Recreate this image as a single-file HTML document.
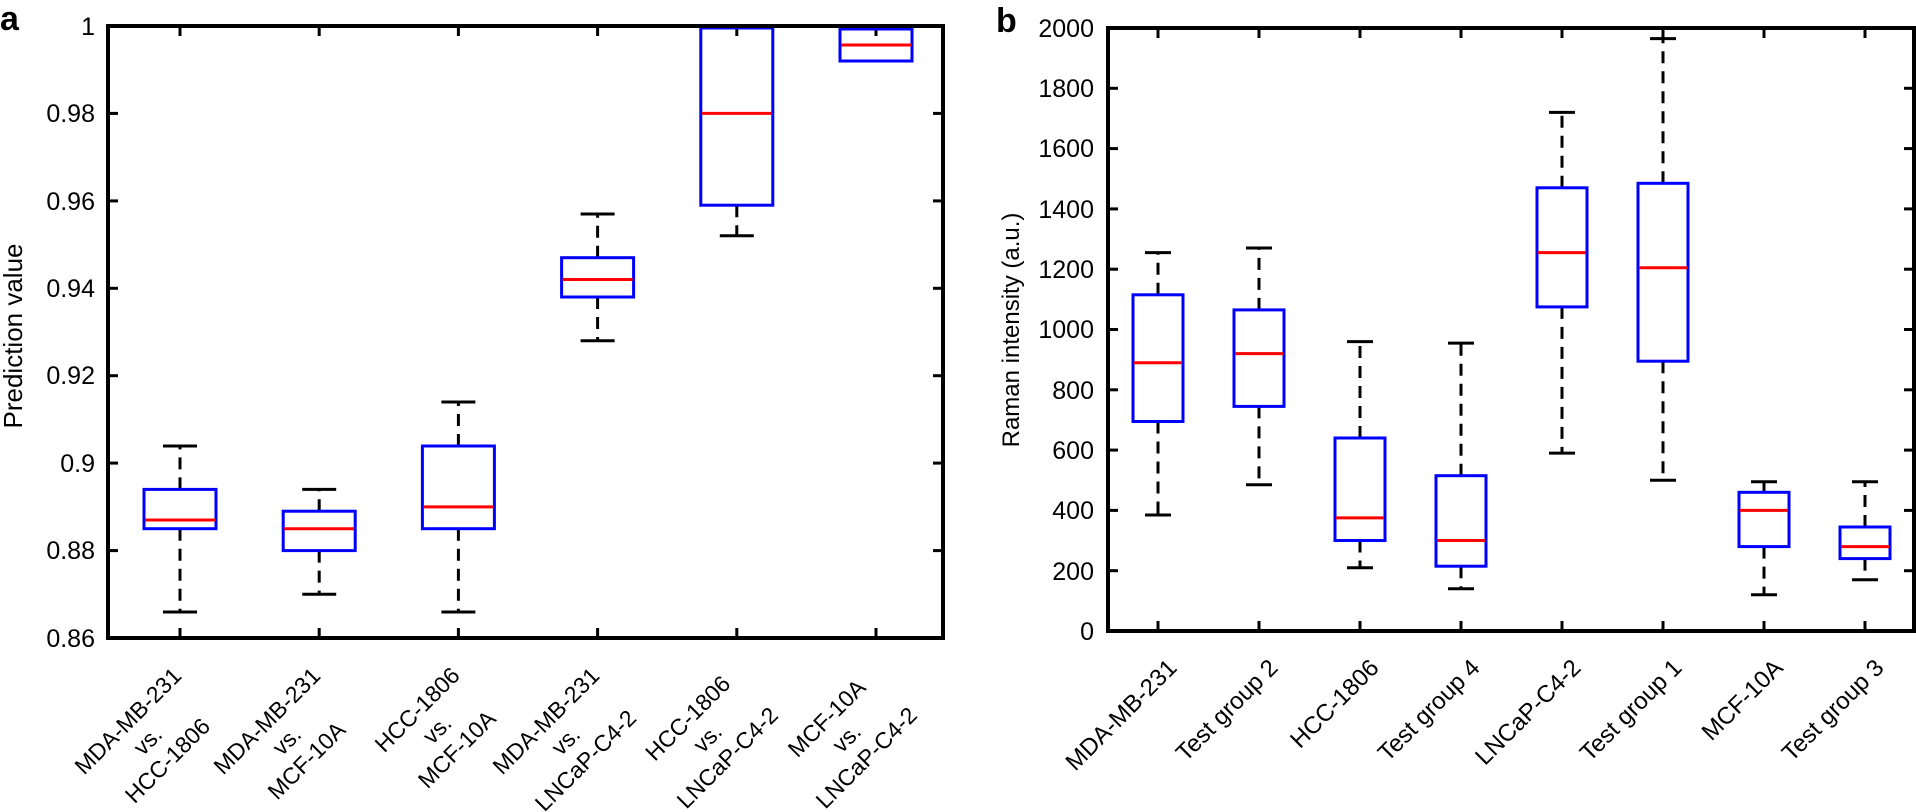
<!DOCTYPE html>
<html><head><meta charset="utf-8"><style>
html,body{margin:0;padding:0;background:#fff;}
svg{display:block;font-family:"Liberation Sans",Arial,sans-serif;}
</style></head><body>
<svg width="1916" height="812" viewBox="0 0 1916 812" xmlns="http://www.w3.org/2000/svg">
<rect width="1916" height="812" fill="#fff"/>
<text x="0" y="30" font-size="34" font-weight="bold">a</text>
<text x="996" y="32" font-size="34" font-weight="bold">b</text>

<!-- Panel a -->
<g stroke="#000" stroke-width="3">
<line x1="180" y1="638" x2="180" y2="628"/><line x1="319.2" y1="638" x2="319.2" y2="628"/><line x1="458.4" y1="638" x2="458.4" y2="628"/><line x1="597.6" y1="638" x2="597.6" y2="628"/><line x1="736.8" y1="638" x2="736.8" y2="628"/><line x1="876" y1="638" x2="876" y2="628"/>
<line x1="180" y1="26" x2="180" y2="36"/><line x1="319.2" y1="26" x2="319.2" y2="36"/><line x1="458.4" y1="26" x2="458.4" y2="36"/><line x1="597.6" y1="26" x2="597.6" y2="36"/><line x1="736.8" y1="26" x2="736.8" y2="36"/><line x1="876" y1="26" x2="876" y2="36"/>
<line x1="108" y1="113.4" x2="118" y2="113.4"/><line x1="108" y1="200.9" x2="118" y2="200.9"/><line x1="108" y1="288.3" x2="118" y2="288.3"/><line x1="108" y1="375.7" x2="118" y2="375.7"/><line x1="108" y1="463.1" x2="118" y2="463.1"/><line x1="108" y1="550.6" x2="118" y2="550.6"/>
<line x1="943" y1="113.4" x2="933" y2="113.4"/><line x1="943" y1="200.9" x2="933" y2="200.9"/><line x1="943" y1="288.3" x2="933" y2="288.3"/><line x1="943" y1="375.7" x2="933" y2="375.7"/><line x1="943" y1="463.1" x2="933" y2="463.1"/><line x1="943" y1="550.6" x2="933" y2="550.6"/>
</g>
<g font-size="25" text-anchor="end">
<text x="95" y="35">1</text><text x="95" y="122">0.98</text><text x="95" y="210">0.96</text><text x="95" y="297">0.94</text><text x="95" y="384">0.92</text><text x="95" y="472">0.9</text><text x="95" y="559">0.88</text><text x="95" y="647">0.86</text>
</g>
<text transform="translate(22,336) rotate(-90)" font-size="26" text-anchor="middle">Prediction value</text>

<g stroke="#000" stroke-width="3" fill="none">
<g stroke-dasharray="12,8">
<line x1="180" y1="528.7" x2="180" y2="612"/><line x1="180" y1="489.4" x2="180" y2="446"/>
<line x1="319.2" y1="550.6" x2="319.2" y2="594.3"/><line x1="319.2" y1="511.2" x2="319.2" y2="489.4"/>
<line x1="458.4" y1="528.7" x2="458.4" y2="612"/><line x1="458.4" y1="446" x2="458.4" y2="402"/>
<line x1="597.6" y1="297" x2="597.6" y2="340.7"/><line x1="597.6" y1="257.7" x2="597.6" y2="214"/>
<line x1="736.8" y1="205.2" x2="736.8" y2="235.8"/>
</g>
<line x1="163" y1="612" x2="197" y2="612"/><line x1="163" y1="446" x2="197" y2="446"/>
<line x1="302.2" y1="594.3" x2="336.2" y2="594.3"/><line x1="302.2" y1="489.4" x2="336.2" y2="489.4"/>
<line x1="441.4" y1="612" x2="475.4" y2="612"/><line x1="441.4" y1="402" x2="475.4" y2="402"/>
<line x1="580.6" y1="340.7" x2="614.6" y2="340.7"/><line x1="580.6" y1="214" x2="614.6" y2="214"/>
<line x1="719.8" y1="235.8" x2="753.8" y2="235.8"/><line x1="719.8" y1="27" x2="753.8" y2="27"/>
<line x1="859" y1="61" x2="893" y2="61"/><line x1="859" y1="28" x2="893" y2="28"/>
</g>
<g stroke="#0000ff" stroke-width="3" fill="none">
<rect x="144" y="489.4" width="72" height="39.3"/>
<rect x="283.2" y="511.2" width="72" height="39.4"/>
<rect x="422.4" y="446" width="72" height="82.7"/>
<rect x="561.6" y="257.7" width="72" height="39.3"/>
<rect x="700.8" y="28" width="72" height="177.2"/>
<rect x="840" y="29" width="72" height="32"/>
</g>
<g stroke="#ff0000" stroke-width="3">
<line x1="145" y1="520" x2="215" y2="520"/>
<line x1="284.2" y1="528.7" x2="354.2" y2="528.7"/>
<line x1="423.4" y1="506.9" x2="493.4" y2="506.9"/>
<line x1="562.6" y1="279.5" x2="632.6" y2="279.5"/>
<line x1="701.8" y1="113.4" x2="771.8" y2="113.4"/>
<line x1="841" y1="45" x2="911" y2="45"/>
</g>
<rect x="108" y="26" width="835" height="612" fill="none" stroke="#000" stroke-width="4"/>

<g font-size="23" text-anchor="middle">
<g transform="translate(183,677) rotate(-45)"><text x="-70" y="0">MDA-MB-231</text><text x="-70" y="28">vs.</text><text x="-70" y="56">HCC-1806</text></g>
<g transform="translate(322,677) rotate(-45)"><text x="-70" y="0">MDA-MB-231</text><text x="-70" y="28">vs.</text><text x="-70" y="56">MCF-10A</text></g>
<g transform="translate(461,677) rotate(-45)"><text x="-54" y="0">HCC-1806</text><text x="-54" y="28">vs.</text><text x="-54" y="56">MCF-10A</text></g>
<g transform="translate(601,677) rotate(-45)"><text x="-70" y="0">MDA-MB-231</text><text x="-70" y="28">vs.</text><text x="-70" y="56">LNCaP-C4-2</text></g>
<g transform="translate(740,677) rotate(-45)"><text x="-66" y="0">HCC-1806</text><text x="-66" y="28">vs.</text><text x="-66" y="56">LNCaP-C4-2</text></g>
<g transform="translate(879,677) rotate(-45)"><text x="-66" y="0">MCF-10A</text><text x="-66" y="28">vs.</text><text x="-66" y="56">LNCaP-C4-2</text></g>
</g>

<!-- Panel b -->
<g stroke="#000" stroke-width="3">
<line x1="1158" y1="631" x2="1158" y2="621"/><line x1="1259" y1="631" x2="1259" y2="621"/><line x1="1360" y1="631" x2="1360" y2="621"/><line x1="1461" y1="631" x2="1461" y2="621"/><line x1="1562" y1="631" x2="1562" y2="621"/><line x1="1663" y1="631" x2="1663" y2="621"/><line x1="1764" y1="631" x2="1764" y2="621"/><line x1="1865" y1="631" x2="1865" y2="621"/>
<line x1="1158" y1="28" x2="1158" y2="38"/><line x1="1259" y1="28" x2="1259" y2="38"/><line x1="1360" y1="28" x2="1360" y2="38"/><line x1="1461" y1="28" x2="1461" y2="38"/><line x1="1562" y1="28" x2="1562" y2="38"/><line x1="1663" y1="28" x2="1663" y2="38"/><line x1="1764" y1="28" x2="1764" y2="38"/><line x1="1865" y1="28" x2="1865" y2="38"/>
<line x1="1108" y1="570.7" x2="1118" y2="570.7"/><line x1="1108" y1="510.4" x2="1118" y2="510.4"/><line x1="1108" y1="450.1" x2="1118" y2="450.1"/><line x1="1108" y1="389.8" x2="1118" y2="389.8"/><line x1="1108" y1="329.5" x2="1118" y2="329.5"/><line x1="1108" y1="269.2" x2="1118" y2="269.2"/><line x1="1108" y1="208.9" x2="1118" y2="208.9"/><line x1="1108" y1="148.6" x2="1118" y2="148.6"/><line x1="1108" y1="88.3" x2="1118" y2="88.3"/>
<line x1="1914" y1="570.7" x2="1904" y2="570.7"/><line x1="1914" y1="510.4" x2="1904" y2="510.4"/><line x1="1914" y1="450.1" x2="1904" y2="450.1"/><line x1="1914" y1="389.8" x2="1904" y2="389.8"/><line x1="1914" y1="329.5" x2="1904" y2="329.5"/><line x1="1914" y1="269.2" x2="1904" y2="269.2"/><line x1="1914" y1="208.9" x2="1904" y2="208.9"/><line x1="1914" y1="148.6" x2="1904" y2="148.6"/><line x1="1914" y1="88.3" x2="1904" y2="88.3"/>
</g>
<g font-size="25" text-anchor="end">
<text x="1094" y="640">0</text><text x="1094" y="580">200</text><text x="1094" y="519">400</text><text x="1094" y="459">600</text><text x="1094" y="399">800</text><text x="1094" y="338">1000</text><text x="1094" y="278">1200</text><text x="1094" y="218">1400</text><text x="1094" y="157">1600</text><text x="1094" y="97">1800</text><text x="1094" y="37">2000</text>
</g>
<text transform="translate(1019,330) rotate(-90)" font-size="24" text-anchor="middle">Raman intensity (a.u.)</text>

<g stroke="#000" stroke-width="3" fill="none">
<g stroke-dasharray="12,8">
<line x1="1158" y1="421.5" x2="1158" y2="515"/><line x1="1158" y1="294.8" x2="1158" y2="252.6"/>
<line x1="1259" y1="406.4" x2="1259" y2="484.8"/><line x1="1259" y1="309.9" x2="1259" y2="248"/>
<line x1="1360" y1="540.5" x2="1360" y2="567.7"/><line x1="1360" y1="438" x2="1360" y2="341.6"/>
<line x1="1461" y1="566.2" x2="1461" y2="588.8"/><line x1="1461" y1="475.7" x2="1461" y2="343.1"/>
<line x1="1562" y1="306.9" x2="1562" y2="453.1"/><line x1="1562" y1="187.8" x2="1562" y2="112.4"/>
<line x1="1663" y1="361.2" x2="1663" y2="480.2"/><line x1="1663" y1="183.3" x2="1663" y2="38.6"/>
<line x1="1764" y1="546.6" x2="1764" y2="594.8"/><line x1="1764" y1="492.3" x2="1764" y2="481.8"/>
<line x1="1865" y1="558.6" x2="1865" y2="579.7"/><line x1="1865" y1="527" x2="1865" y2="481.8"/>
</g>
<line x1="1145" y1="515" x2="1171" y2="515"/><line x1="1145" y1="252.6" x2="1171" y2="252.6"/>
<line x1="1246" y1="484.8" x2="1272" y2="484.8"/><line x1="1246" y1="248" x2="1272" y2="248"/>
<line x1="1347" y1="567.7" x2="1373" y2="567.7"/><line x1="1347" y1="341.6" x2="1373" y2="341.6"/>
<line x1="1448" y1="588.8" x2="1474" y2="588.8"/><line x1="1448" y1="343.1" x2="1474" y2="343.1"/>
<line x1="1549" y1="453.1" x2="1575" y2="453.1"/><line x1="1549" y1="112.4" x2="1575" y2="112.4"/>
<line x1="1650" y1="480.2" x2="1676" y2="480.2"/><line x1="1650" y1="38.6" x2="1676" y2="38.6"/>
<line x1="1751" y1="594.8" x2="1777" y2="594.8"/><line x1="1751" y1="481.8" x2="1777" y2="481.8"/>
<line x1="1852" y1="579.7" x2="1878" y2="579.7"/><line x1="1852" y1="481.8" x2="1878" y2="481.8"/>
</g>
<g stroke="#0000ff" stroke-width="3" fill="none">
<rect x="1133" y="294.8" width="50" height="126.7"/>
<rect x="1234" y="309.9" width="50" height="96.5"/>
<rect x="1335" y="438" width="50" height="102.5"/>
<rect x="1436" y="475.7" width="50" height="90.5"/>
<rect x="1537" y="187.8" width="50" height="119.1"/>
<rect x="1638" y="183.3" width="50" height="177.9"/>
<rect x="1739" y="492.3" width="50" height="54.3"/>
<rect x="1840" y="527" width="50" height="31.6"/>
</g>
<g stroke="#ff0000" stroke-width="3">
<line x1="1134" y1="362.7" x2="1182" y2="362.7"/>
<line x1="1235" y1="353.6" x2="1283" y2="353.6"/>
<line x1="1336" y1="517.9" x2="1384" y2="517.9"/>
<line x1="1437" y1="540.5" x2="1485" y2="540.5"/>
<line x1="1538" y1="252.6" x2="1586" y2="252.6"/>
<line x1="1639" y1="267.7" x2="1687" y2="267.7"/>
<line x1="1740" y1="510.4" x2="1788" y2="510.4"/>
<line x1="1841" y1="546.6" x2="1889" y2="546.6"/>
</g>
<rect x="1108" y="28" width="806" height="603" fill="none" stroke="#000" stroke-width="4"/>

<g font-size="24" text-anchor="end">
<text transform="translate(1164,655) rotate(-45)" y="20">MDA-MB-231</text>
<text transform="translate(1265,655) rotate(-45)" y="20">Test group 2</text>
<text transform="translate(1366,655) rotate(-45)" y="20">HCC-1806</text>
<text transform="translate(1467,655) rotate(-45)" y="20">Test group 4</text>
<text transform="translate(1568,655) rotate(-45)" y="20">LNCaP-C4-2</text>
<text transform="translate(1669,655) rotate(-45)" y="20">Test group 1</text>
<text transform="translate(1770,655) rotate(-45)" y="20">MCF-10A</text>
<text transform="translate(1871,655) rotate(-45)" y="20">Test group 3</text>
</g>
</svg>
</body></html>
